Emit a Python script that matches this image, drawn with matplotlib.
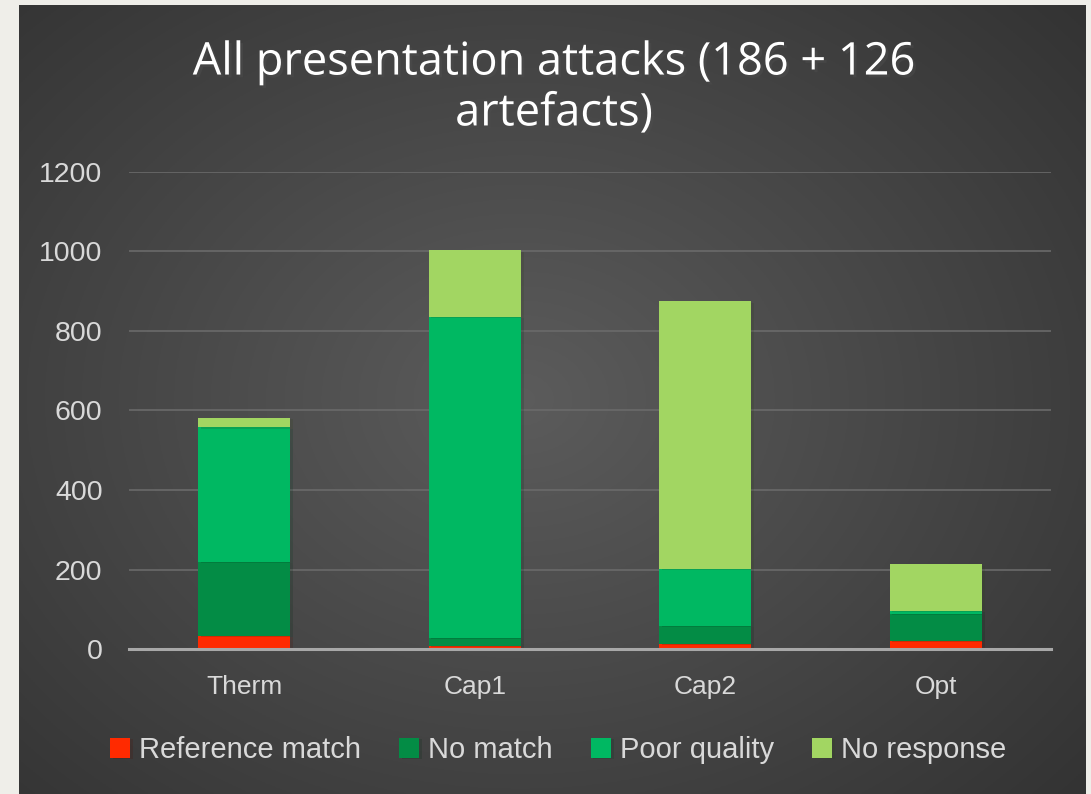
import numpy as np
import matplotlib.pyplot as plt
import matplotlib.patheffects as pe

# --- data ---
devices = ["Therm", "Cap1", "Cap2", "Opt"]
ref_match = [33, 8, 13, 21]
no_match = [186, 20, 45, 68]
poor_quality = [339, 807, 143, 7]
no_response = [23, 168, 674, 117]

labels = ["Reference match", "No match", "Poor quality", "No response"]
colors = ["#FF2A00", "#038C45", "#00B862", "#A2D662"]

W, H = 1091, 794
fig = plt.figure(figsize=(W / 100, H / 100), dpi=100)
fig.patch.set_facecolor("#EFEEE9")

# dark panel with radial gradient
bg = fig.add_axes([19 / W, 0, 1067 / W, 789 / H])
yy, xx = np.mgrid[0:1:400j, 0:1:540j]
r = np.sqrt(((xx - 0.47) / 0.75) ** 2 + ((yy - 0.5) / 0.8) ** 2)
shade = np.clip(0.36 - 0.17 * r, 0.2, 0.36)
bg.imshow(np.dstack([shade] * 3), aspect="auto", extent=[0, 1, 0, 1], origin="lower")
bg.set_axis_off()

ax = fig.add_axes([129 / W, 1 - 649 / H, 922 / W, 477 / H])
ax.patch.set_alpha(0)

series = [ref_match, no_match, poor_quality, no_response]
x = np.arange(len(devices))
bottom = np.zeros(len(devices))
for vals, lab, col in zip(series, labels, colors):
    ax.bar(x, vals, 0.4, bottom=bottom, color=col, label=lab, zorder=3,
           path_effects=[pe.SimplePatchShadow(offset=(2, -1), alpha=0.18), pe.Normal()])
    bottom += np.array(vals)

ax.set_xlim(-0.5, len(devices) - 0.5)
ax.set_ylim(0, 1200)
ax.set_yticks(range(0, 1201, 200))
ax.yaxis.grid(True, color="#6A6A6A", linewidth=1.2, zorder=0)
ax.set_axisbelow(True)
for s in ["top", "right", "left"]:
    ax.spines[s].set_visible(False)
ax.spines["bottom"].set_color("#A8A8A8")
ax.spines["bottom"].set_linewidth(2.2)
ax.spines["bottom"].set_zorder(4)
ax.tick_params(axis="both", length=0, colors="#D9D9D9")
ax.tick_params(axis="y", pad=19, labelsize=20.5)
ax.tick_params(axis="x", pad=19, labelsize=19)
ax.set_xticks(x)
ax.set_xticklabels(devices, fontfamily="Liberation Sans")
for t in ax.get_yticklabels():
    t.set_fontfamily("Liberation Sans")

fig.text(554 / W, 1 - 88 / H, "All presentation attacks (186 + 126\nartefacts)",
         ha="center", va="center", color="white", fontsize=32.5, fontfamily="Open Sans",
         linespacing=1.14,
         path_effects=[pe.withSimplePatchShadow(offset=(2, -2), alpha=0.5)])

leg = fig.legend(loc="center", bbox_to_anchor=(558 / W, 1 - 750 / H), ncol=4,
                 frameon=False, handlelength=0.7, handleheight=0.7,
                 handletextpad=0.3, columnspacing=1.3,
                 prop={"family": "Liberation Sans", "size": 21})
for t in leg.get_texts():
    t.set_color("#D9D9D9")

fig.savefig("out.png", dpi=100, facecolor=fig.get_facecolor())
